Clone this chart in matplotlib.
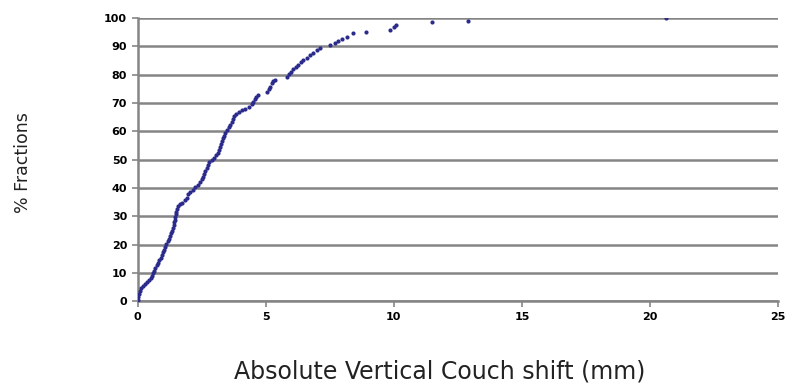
import matplotlib
matplotlib.use('Agg')
import matplotlib.pyplot as plt

# absolute vertical couch shift (mm) and cumulative % of fractions
shift = [0.0, 0.03, 0.06, 0.1, 0.15, 0.22, 0.3, 0.38, 0.45, 0.52, 0.58, 0.62,
         0.66, 0.7, 0.75, 0.8, 0.85, 0.9, 0.95, 1.0, 1.04, 1.08, 1.13, 1.18,
         1.22, 1.27, 1.32, 1.36, 1.39, 1.41, 1.43, 1.45, 1.47, 1.49, 1.51, 1.53,
         1.57, 1.65, 1.75, 1.85, 1.92, 1.98, 2.05, 2.15, 2.25, 2.35, 2.44, 2.5,
         2.56, 2.61, 2.65, 2.7, 2.74, 2.78, 2.9, 3.0, 3.06, 3.12, 3.18, 3.22,
         3.26, 3.3, 3.34, 3.38, 3.43, 3.5, 3.56, 3.62, 3.67, 3.72, 3.78, 3.85,
         3.95, 4.06, 4.2, 4.35, 4.45, 4.52, 4.58, 4.64, 4.71,
         5.04, 5.12, 5.17, 5.24, 5.3, 5.38, 5.82, 5.9, 5.97, 6.08, 6.18, 6.27,
         6.37, 6.47, 6.6, 6.72, 6.85, 7.0, 7.12, 7.5, 7.7, 7.83, 7.98, 8.16,
         8.42, 8.9, 9.85, 10.0, 10.08, 11.5, 12.9, 20.6]
frac = [0.5, 1.5, 2.5, 3.6, 4.5, 5.4, 6.1, 6.8, 7.4, 8.1, 8.9, 9.8,
        10.8, 11.7, 12.6, 13.5, 14.5, 15.4, 16.3, 17.2, 18.2, 19.1, 20.1, 21.1,
        22.0, 22.9, 23.9, 24.8, 25.8, 26.8, 27.8, 28.7, 29.7, 30.7, 31.6, 32.6,
        33.5, 34.2, 34.8, 35.6, 36.6, 37.7, 38.6, 39.4, 40.2, 41.1, 42.0, 43.0,
        44.0, 45.0, 46.0, 47.0, 48.0, 49.0, 49.7, 50.5, 51.5, 52.5, 53.5, 54.5,
        55.5, 56.5, 57.5, 58.5, 59.5, 60.4, 61.4, 62.4, 63.4, 64.4, 65.4, 66.3,
        67.0, 67.4, 68.0, 68.6, 69.5, 70.4, 71.4, 72.2, 72.8,
        74.0, 74.8, 75.8, 77.0, 77.8, 78.3, 79.3, 80.2, 81.0, 81.9, 82.8, 83.6,
        84.4, 85.2, 86.1, 86.9, 87.8, 88.6, 89.3, 90.5, 91.1, 91.8, 92.6, 93.4,
        94.6, 95.2, 96.0, 96.8, 97.5, 98.5, 99.1, 100.0]

xticks = [0, 5, 10, 15, 20, 25]
yticks = list(range(0, 101, 10))

grey = '#858585'
fig = plt.figure(figsize=(7.95, 3.87), dpi=100)
ax = fig.add_axes([0.173, 0.222, 0.806, 0.731])

ax.plot(shift, frac, 'o', color='#2b2b8c', markersize=3, markeredgewidth=0, zorder=3)

ax.set_xlim(0, 25)
ax.set_ylim(0, 100)
ax.set_xticks(xticks)
ax.set_yticks(yticks)
ax.yaxis.grid(True, color=grey, linewidth=1.8)
ax.set_axisbelow(True)
for s in ['top', 'right']:
    ax.spines[s].set_visible(False)
for s in ['left', 'bottom']:
    ax.spines[s].set_color(grey)
    ax.spines[s].set_linewidth(1.8)
ax.tick_params(axis='both', colors=grey, width=1.2, length=4, direction='out',
               labelcolor='black', labelsize=8)
ax.tick_params(axis='x', pad=4)
for lab in ax.get_xticklabels() + ax.get_yticklabels():
    lab.set_family('DejaVu Sans')
    lab.set_fontweight('bold')

fig.text(0.029, 0.58, '% Fractions', rotation=90, ha='center', va='center',
         fontsize=12.5, family='DejaVu Sans', color='#222222')
fig.text(0.553, 0.04, 'Absolute Vertical Couch shift (mm)', ha='center', va='center',
         fontsize=17, family='DejaVu Sans', color='#222222')

fig.savefig('out.png', dpi=100)
